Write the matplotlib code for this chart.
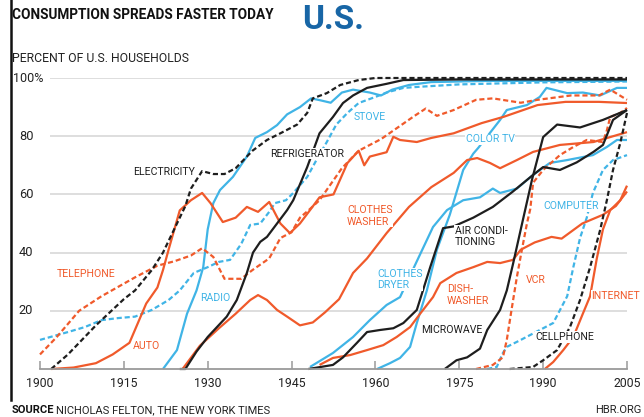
import matplotlib
matplotlib.use("Agg")
import matplotlib.pyplot as plt
from matplotlib.lines import Line2D

# --- data (percent of U.S. households) ---
electricity_years = [1902, 1905, 1910, 1915, 1917, 1920, 1922, 1924, 1926, 1927, 1929, 1931, 1933, 1935,
                     1938, 1940.6, 1943, 1946, 1947.8, 1948.8, 1951.3, 1953.7, 1957, 1960, 2005]
electricity = [0, 5, 15, 24, 27, 34, 40, 48, 56, 62, 68, 67, 67, 69,
               75, 78.7, 81, 84, 88, 93, 94.8, 97.6, 99.3, 100, 100]

telephone_years = [1900, 1903, 1907, 1911, 1917, 1921, 1924, 1927, 1929, 1931, 1933, 1936, 1938, 1941,
                   1943, 1945, 1946.5, 1948.3, 1950, 1954, 1957, 1961, 1964, 1967, 1969, 1971, 1974,
                   1978, 1981, 1986, 1989, 1995, 2000, 2002, 2005]
telephone = [5, 11, 20, 25, 31.5, 35.5, 37, 39, 41.5, 38.5, 31, 31, 34, 38,
             45, 47, 52, 55, 58, 69, 75, 79, 83, 87, 89.5, 87, 89,
             92.5, 93, 91.5, 92.5, 94, 94, 96, 92.5]

auto_years = [1902, 1906, 1910, 1913, 1916, 1918, 1919, 1921, 1922, 1923, 1925, 1927, 1929, 1930.5,
              1932.7, 1935, 1937, 1939, 1941, 1943, 1944.7, 1946.5, 1948.3, 1950, 1952.5, 1955, 1957,
              1958, 1959, 1962, 1963.2, 1964.4, 1967.4, 1970, 1974, 1979, 1983, 1989, 1994, 2000, 2005]
auto = [0, 0.5, 2, 5, 9, 18, 22.5, 28, 34, 41, 54.5, 58, 60.5, 57,
        50.5, 52, 55.7, 54, 57.4, 50, 46.7, 50, 54.6, 59, 60, 70.8, 75,
        70, 73, 74.5, 79.8, 78.7, 78, 79.4, 81, 84.5, 86.7, 90.7, 91.8, 91.8, 91.4]

stove_years = [1900, 1905, 1908, 1911, 1914, 1917, 1920, 1923, 1925, 1927.5, 1930, 1932, 1934, 1936,
               1937.6, 1939.4, 1941, 1942, 1944, 1945.3, 1947.8, 1949.5, 1951.3, 1953, 1955, 1957,
               1960, 1962, 1965, 1968, 1975, 1990, 2005]
stove = [10, 12.7, 14.4, 16.8, 17.5, 18, 20.3, 23.7, 27, 33, 35, 36.8, 37.5, 43,
         49.5, 50, 54, 57, 58, 60.5, 66, 72, 78, 84, 88, 91.4,
         93.5, 95, 96.6, 97, 97.8, 98.5, 98.8]

radio_years = [1922, 1924.5, 1926.3, 1928, 1929.2, 1930, 1931, 1932.2, 1934.5, 1937, 1938.5, 1940.6,
               1942.4, 1944.2, 1946.5, 1948.5, 1950, 1952, 1954, 1956, 1959, 1961, 1963, 1966, 1970,
               1980, 2005]
radio = [0, 6.5, 19, 27, 35, 48, 57, 61.5, 66, 73, 79.4, 81.4,
         83.8, 87.5, 90, 93, 92.4, 91.5, 95, 96, 95, 94, 96, 97.6, 98.6,
         99, 99]

refrigerator_years = [1925, 1926, 1928, 1930, 1933.4, 1935.2, 1937, 1938.1, 1939.4, 1940.6, 1942.4,
                      1944.2, 1945.3, 1947.8, 1950, 1952.4, 1954.2, 1956, 1958.5, 1962, 1965, 1975, 2005]
refrigerator = [0, 0, 6, 11, 18, 23.7, 33, 40, 43.7, 45.4, 50,
                54.6, 58, 69.4, 81, 86.6, 91.4, 94, 96.6, 98, 99.3, 99.5, 99.5]

washer_years = [1925.5, 1928.6, 1932, 1935, 1937.6, 1939, 1940.6, 1942.4, 1944.2, 1946.5, 1948.8,
                1951, 1953.5, 1956, 1958.5, 1962, 1966, 1970, 1974, 1976.4, 1978.2, 1980.5, 1982.3,
                1985.3, 1988.2, 1993, 1999, 2002, 2005]
washer = [0, 8, 14, 19, 23.7, 25.4, 23.7, 20.3, 18, 15, 16,
          19.5, 24, 33, 38, 46.7, 55.7, 62.5, 67.4, 71.8, 72.5, 70.8, 69,
          71.8, 74.6, 77, 78, 79.7, 81.4]

dryer_years = [1948.3, 1952.4, 1956, 1959, 1962, 1964.4, 1967.4, 1970.3, 1972.8, 1975.7, 1978.7,
               1981, 1982.3, 1985.3, 1988.2, 1991.2, 1994.3, 1998.9, 2001.4, 2003.2, 2005]
dryer = [0.7, 5.5, 11, 16.8, 22, 24.7, 37, 48.8, 54.6, 58, 59,
         62, 60.5, 62, 66.7, 70.8, 71.8, 73.5, 76.3, 78.7, 78.7]

colortv_years = [1960.3, 1962.6, 1964.4, 1966.2, 1967.4, 1969.2, 1971, 1973.3, 1975.7, 1977.5, 1978.4,
                 1982.3, 1983.5, 1987.1, 1989.4, 1990.6, 1994.3, 1997.1, 2000.2, 2003.2, 2005]
colortv = [0, 2, 3.8, 7.6, 15.8, 27, 41, 53, 68.4, 74, 76,
           85.6, 89, 90.7, 93.5, 96.6, 94.8, 95, 94, 96.6, 96.6]

aircon_years = [1948, 1952.4, 1954.2, 1956.7, 1958.5, 1960.8, 1963.2, 1965, 1967.4, 1968.5, 1969.8,
                1971, 1972.1, 1974, 1977.5, 1981, 1984.6, 1988.2, 1990, 1993, 1996, 1999, 2000.7,
                2002.5, 2005]
aircon = [0, 1.4, 4, 9, 12.7, 13.4, 14, 15.8, 20.3, 27, 35,
          42, 48.4, 49, 52, 55.7, 61, 66.7, 69.4, 68.4, 71, 74.6, 77,
          85.6, 89]

dishwasher_years = [1950, 1952.4, 1955.5, 1958.5, 1961.4, 1963.8, 1966.2, 1968, 1970.3, 1971.6, 1974.5,
                    1977.5, 1980, 1982.3, 1984.6, 1986, 1988.5, 1991.5, 1993.3, 1997, 2000.7, 2003, 2005]
dishwasher = [1.4, 3.8, 4.8, 6.5, 8.2, 11, 14.4, 19, 24.7, 29.5, 33,
              35, 36.8, 36.4, 37.5, 41, 43.5, 45.4, 44.8, 50, 53, 56, 61]

microwave_years = [1972.4, 1974.5, 1976.4, 1978.7, 1980, 1982.3, 1983.5, 1984.6, 1986, 1988, 1990,
                   1992.5, 1996.6, 2000.7, 2005]
microwave = [0, 3, 4, 7, 13.4, 20.3, 27, 36, 48, 65, 79.7,
             84, 83, 85.6, 89]

vcr_years = [1978, 1981, 1982.8, 1983.5, 1984.4, 1985.3, 1986.2, 1987.1, 1987.7, 1988.2, 1990, 1993,
             1995.4, 1997.8, 2000.7, 2001.4, 2002, 2003.8, 2005]
vcr = [0, 1.4, 4, 10, 21, 31.6, 41, 50, 55, 64, 68.4, 73.5,
       76.3, 78.7, 78, 82, 86.6, 88, 89.7]

computer_years = [1980, 1981.7, 1982.8, 1983.5, 1986, 1989.4, 1991.8, 1994.3, 1995.4, 1996.6, 1997.8,
                  1998.9, 2000.7, 2002.5, 2005]
computer = [0, 0.7, 5.5, 7.6, 10, 13.4, 15.8, 25, 35, 45, 52,
            60.5, 68.4, 71.8, 73.5]

cellphone_years = [1984, 1988.2, 1990, 1992.5, 1994.8, 1996.6, 1998.4, 2000.2, 2001.4, 2002.5, 2003.8, 2005]
cellphone = [0, 0.7, 3, 6.5, 14.4, 23.7, 35, 47.8, 58, 68.4, 77.7, 88]

internet_years = [1990.3, 1991.8, 1993.6, 1995.4, 1997.1, 1998.4, 1999.6, 2000.7, 2002, 2003.8, 2005]
internet = [0, 2.4, 6.5, 11, 19, 25, 38, 48, 54.6, 58, 63]

x_ticks = [1900, 1915, 1930, 1945, 1960, 1975, 1990, 2005]
y_ticks = [20, 40, 60, 80, 100]
y_tick_labels = ["20", "40", "60", "80", "100%"]

ORANGE = "#f05a2b"
BLUE = "#40b4e6"
BLACK = "#1e1e1e"
GRID = "#d4d4d4"
FONT = "Roboto"

plt.rcParams["font.family"] = [FONT, "DejaVu Sans"]

W, H = 644, 417
fig = plt.figure(figsize=(W / 100, H / 100), dpi=100)
ax = fig.add_axes([40 / W, 48 / H, 587 / W, 291 / H])
ax.set_xlim(1900, 2005)
ax.set_ylim(0, 100)

# gridlines
ax.hlines(y_ticks, 1901.8, 2005, color=GRID, lw=1.1, zorder=0)

# series
series = [
    (stove_years, stove, BLUE, "--"),
    (radio_years, radio, BLUE, "-"),
    (dryer_years, dryer, BLUE, "-"),
    (colortv_years, colortv, BLUE, "-"),
    (computer_years, computer, BLUE, "--"),
    (telephone_years, telephone, ORANGE, "--"),
    (auto_years, auto, ORANGE, "-"),
    (washer_years, washer, ORANGE, "-"),
    (dishwasher_years, dishwasher, ORANGE, "-"),
    (vcr_years, vcr, ORANGE, "--"),
    (internet_years, internet, ORANGE, "-"),
    (refrigerator_years, refrigerator, BLACK, "-"),
    (aircon_years, aircon, BLACK, "-"),
    (microwave_years, microwave, BLACK, "-"),
    (electricity_years, electricity, BLACK, "--"),
    (cellphone_years, cellphone, BLACK, "--"),
]
for xs, ys, c, ls in series:
    ln, = ax.plot(xs, ys, color=c, lw=1.6, ls=ls, clip_on=False, zorder=2,
                  solid_joinstyle="round", solid_capstyle="butt")
    if ls == "--":
        ln.set_dashes((2.3, 1.3))

# line labels (white knock-out behind text, like the original)
labels = [
    ("ELECTRICITY", 1927.7, 67.7, BLACK, "right"),
    ("REFRIGERATOR", 1941.1, 73.9, BLACK, "left"),
    ("STOVE", 1959.0, 86.6, BLUE, "center"),
    ("CLOTHES\nWASHER", 1954.9, 52.6, ORANGE, "left"),
    ("COLOR TV", 1980.5, 79.0, BLUE, "center"),
    ("AIR CONDI-\nTIONING", 1974.2, 45.5, BLACK, "left"),
    ("CLOTHES\nDRYER", 1960.3, 30.8, BLUE, "left"),
    ("DISH-\nWASHER", 1972.8, 25.4, ORANGE, "left"),
    ("MICROWAVE", 1973.7, 13.4, BLACK, "center"),
    ("VCR", 1988.7, 30.6, ORANGE, "center"),
    ("COMPUTER", 1995.0, 56.0, BLUE, "center"),
    ("CELLPHONE", 1993.9, 11.0, BLACK, "center"),
    ("INTERNET", 2003.0, 25.1, ORANGE, "center"),
    ("TELEPHONE", 1908.2, 32.6, ORANGE, "center"),
    ("RADIO", 1931.3, 24.4, BLUE, "center"),
    ("AUTO", 1919.0, 8.0, ORANGE, "center"),
]
for txt, x, y, c, ha in labels:
    ax.text(x, y, txt, color=c, fontsize=7.6, ha=ha, va="center", linespacing=1.2,
            zorder=5, clip_on=False,
            bbox=dict(fc="white", ec="none", pad=0.4))

# axes styling
for s in ["top", "right", "left"]:
    ax.spines[s].set_visible(False)
ax.spines["bottom"].set_color("#9a9a9a")
ax.spines["bottom"].set_linewidth(1.3)
ax.set_xticks(x_ticks)
ax.set_xticklabels([str(t) for t in x_ticks])
ax.tick_params(axis="x", direction="in", length=5.8, width=1.1, color="#9a9a9a",
               pad=6, labelsize=8.8, labelcolor="#222222")
ax.set_yticks([])
for t, lab in zip(y_ticks, y_tick_labels):
    if lab.endswith("%"):
        ax.text(1895.2, t, lab, ha="left", va="center", fontsize=9, color="#222222", clip_on=False)
    else:
        ax.text(1897.5, t, lab, ha="center", va="center", fontsize=9.2, color="#222222", clip_on=False)

# header / footer texts (figure pixel positions)
def fy(px):
    return 1 - px / H

fig.text(12 / W, fy(15), "CONSUMPTION SPREADS FASTER TODAY", fontsize=9.8, fontweight="bold",
         color="#111111", ha="left", va="center")
fig.text(302 / W, fy(20), "U.S.", fontsize=24, fontweight="bold", color="#1866a6",
         ha="left", va="center")
fig.text(12 / W, fy(58), "PERCENT OF U.S. HOUSEHOLDS", fontsize=8.8, color="#222222",
         ha="left", va="center")
fig.text(12 / W, fy(410), "SOURCE", fontsize=8, fontweight="bold", color="#111111",
         ha="left", va="center")
fig.text(56 / W, fy(410), "NICHOLAS FELTON, THE NEW YORK TIMES", fontsize=8, color="#222222",
         ha="left", va="center")
fig.text(641 / W, fy(410), "HBR.ORG", fontsize=8, color="#222222", ha="right", va="center")

# thick black rule at the left edge
fig.add_artist(Line2D([11 / W, 11 / W], [fy(0), fy(400)], color="#111111", lw=1.8,
                      transform=fig.transFigure))

fig.savefig("out.png", dpi=100)
